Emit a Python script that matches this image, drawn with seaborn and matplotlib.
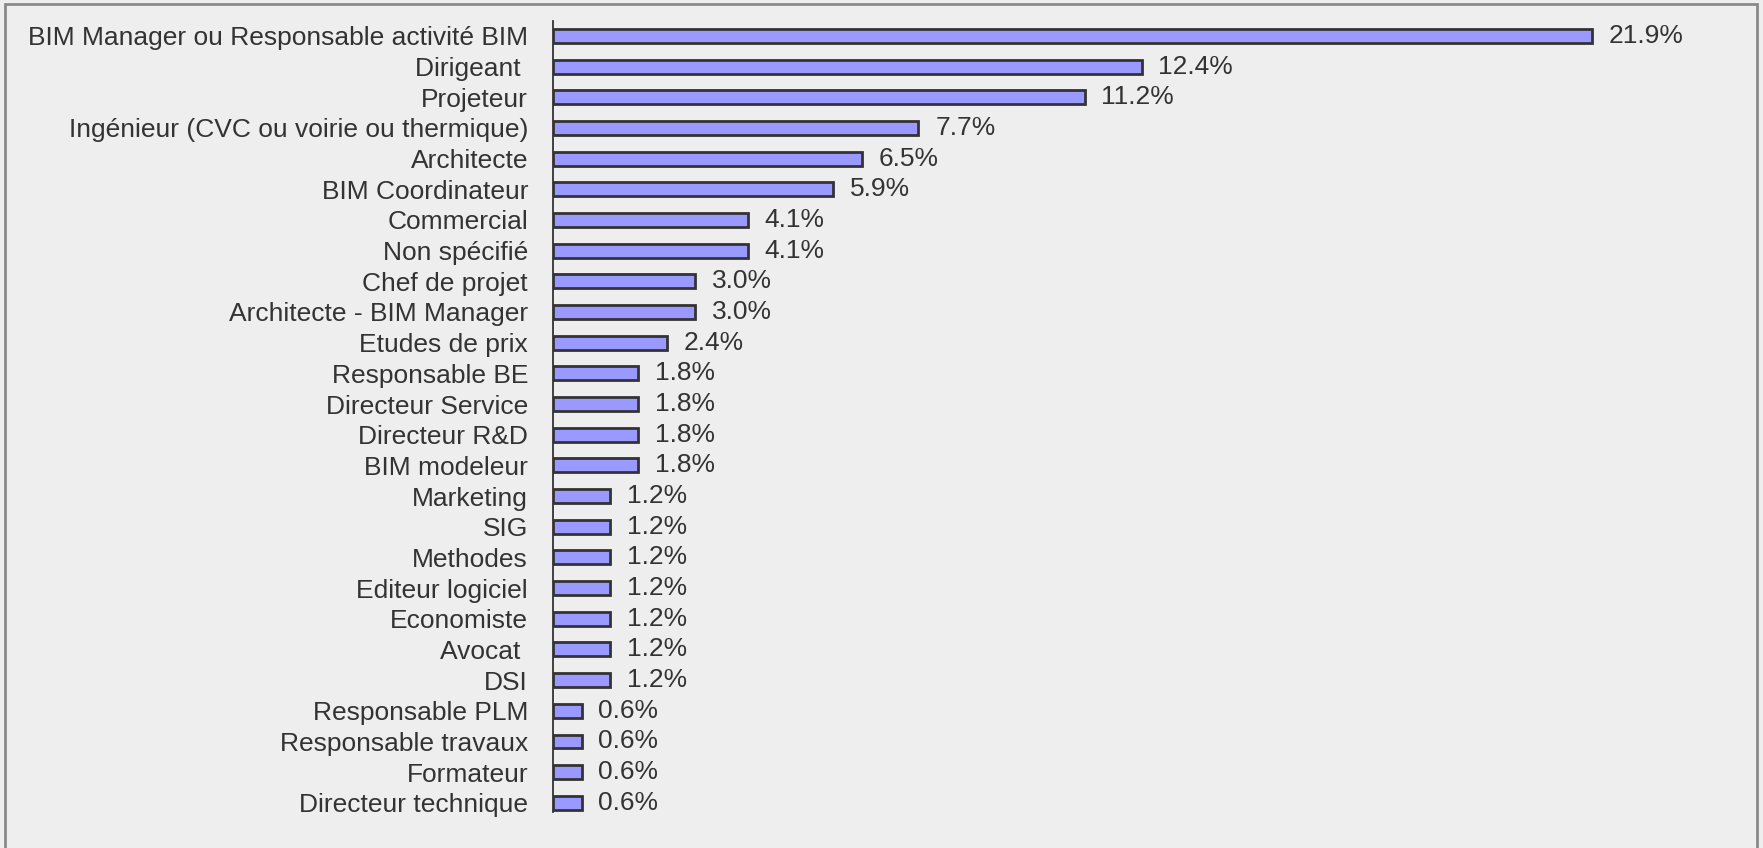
import pandas as pd
import seaborn as sns
import matplotlib
matplotlib.use("Agg")
import matplotlib.pyplot as plt
from matplotlib.patches import Rectangle

# job titles of the respondents, share in percent
roles = [
    "BIM Manager ou Responsable activité BIM", "Dirigeant ", "Projeteur",
    "Ingénieur (CVC ou voirie ou thermique)", "Architecte", "BIM Coordinateur",
    "Commercial", "Non spécifié", "Chef de projet", "Architecte - BIM Manager",
    "Etudes de prix", "Responsable BE", "Directeur Service", "Directeur R&D",
    "BIM modeleur", "Marketing", "SIG", "Methodes", "Editeur logiciel",
    "Economiste", "Avocat ", "DSI", "Responsable PLM", "Responsable travaux",
    "Formateur", "Directeur technique",
]
shares = [21.9, 12.4, 11.2, 7.7, 6.5, 5.9, 4.1, 4.1, 3.0, 3.0, 2.4,
          1.8, 1.8, 1.8, 1.8, 1.2, 1.2, 1.2, 1.2, 1.2, 1.2, 1.2,
          0.6, 0.6, 0.6, 0.6]


def main():
    df = pd.DataFrame({"role": roles, "share": shares})

    sns.set_style("white")
    plt.rcParams["font.family"] = ["Liberation Sans", "DejaVu Sans"]

    bg = "#eeeeee"
    fig = plt.figure(figsize=(17.63, 8.48), dpi=100, facecolor=bg)
    ax = fig.add_axes([0.3137, 0.0425, 0.673, 0.9332])
    ax.set_facecolor(bg)

    sns.barplot(data=df, x="share", y="role", orient="h", color="#9999ff",
                edgecolor="#333333", linewidth=2, width=0.45, saturation=1, ax=ax)

    # percentage labels to the right of each bar
    ax.bar_label(ax.containers[0], fmt="%.1f%%", padding=12,
                 fontsize=19, color="#333333")

    ax.set_xlim(0, 25)
    ax.set_ylim(25.3, -0.5)
    ax.set_xlabel("")
    ax.set_ylabel("")
    ax.set_xticks([])
    ax.tick_params(axis="y", length=0, pad=18, labelsize=19, labelcolor="#333333")
    for side in ["top", "right", "bottom"]:
        ax.spines[side].set_visible(False)
    ax.spines["left"].set_color("#333333")
    ax.spines["left"].set_linewidth(1.3)

    # grey frame round the chart area
    fig.patches.append(Rectangle((5 / 1763, -0.05), 1752 / 1763, 1.05 - 4 / 848,
                                 transform=fig.transFigure, fill=False,
                                 edgecolor="#8a8a8a", linewidth=2))

    fig.savefig("out.png", dpi=100, facecolor=bg)


if __name__ == "__main__":
    main()
